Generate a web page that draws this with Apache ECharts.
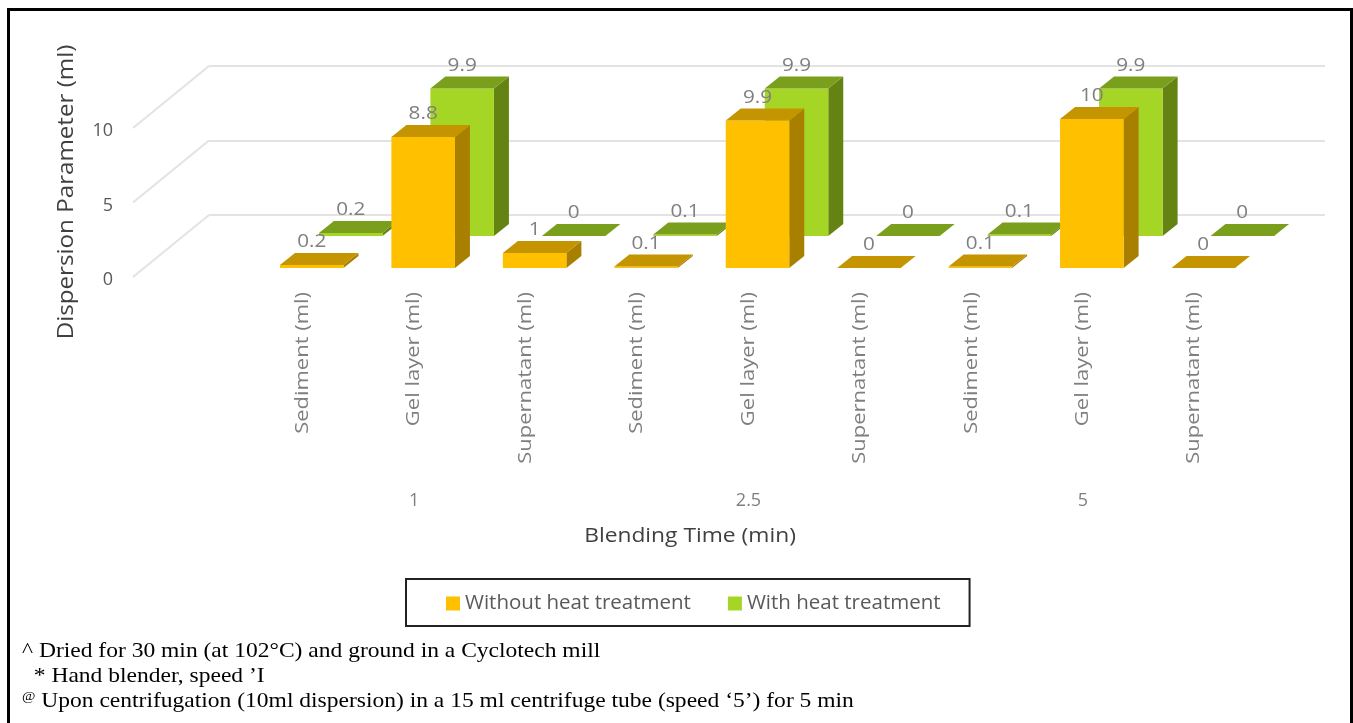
<!DOCTYPE html>
<html>
<head>
<meta charset="utf-8">
<style>
  html, body { margin: 0; padding: 0; background: #fff; }
  #chart { width: 1353px; height: 723px; }
</style>
</head>
<body>
<div id="chart"></div>
<script src="https://cdn.jsdelivr.net/npm/echarts@6/dist/echarts.min.js"></script>
<script>
// 数据
const categories = ['Sediment (ml)', 'Gel layer (ml)', 'Supernatant (ml)', 'Sediment (ml)', 'Gel layer (ml)', 'Supernatant (ml)', 'Sediment (ml)', 'Gel layer (ml)', 'Supernatant (ml)']
const blendingTimes = ['1', '2.5', '5']
const withoutHeat = [0.2, 8.8, 1, 0.1, 9.9, 0, 0.1, 10, 0]
const withHeat = [0.2, 9.9, 0, 0.1, 9.9, 0, 0.1, 9.9, 0]
const valueTicks = [0, 5, 10]
const footnotes = [
    '^ Dried for 30 min (at 102°C) and ground in a Cyclotech mill',
    '  * Hand blender, speed ’I',
    '{s|@} Upon centrifugation (10ml dispersion) in a 15 ml centrifuge tube (speed ‘5’) for 5 min'
]

// 颜色
const gray = '#7f7f7f'
const orange = { front: '#ffc000', side: '#a97f00', top: '#c49500' }
const green = { front: '#a6d625', side: '#648312', top: '#7a9f1c' }

const font = '"Open Sans", sans-serif'
const depthX = 15
const depthY = 12

// 三维柱子：正面、侧面、顶面加数值
const renderBar = (colors) => (params, api) => {
    const v = api.value(1)
    const top = api.coord([api.value(0), v])
    const base = api.coord([api.value(0), 0])
    const w = api.size([1, 0])[0] * 0.57
    const l = top[0] - w / 2
    const r = top[0] + w / 2
    const children = []
    if (base[1] - top[1] > 0) {
        children.push({
            type: 'polygon',
            shape: { points: [[r, top[1]], [r + depthX, top[1] - depthY], [r + depthX, base[1] - depthY], [r, base[1]]] },
            style: { fill: colors.side }
        })
        children.push({
            type: 'rect',
            shape: { x: l, y: top[1], width: w, height: base[1] - top[1] },
            style: { fill: colors.front }
        })
    }
    children.push({
        type: 'polygon',
        shape: { points: [[l, top[1]], [l + depthX, top[1] - depthY], [r + depthX, top[1] - depthY], [r, top[1]]] },
        style: { fill: colors.top }
    })
    children.push({
        type: 'text',
        x: top[0],
        y: top[1] - 23,
        scaleX: 1.15,
        style: {
            text: String(v),
            align: 'center',
            verticalAlign: 'middle',
            fill: gray,
            font: '18px ' + font
        }
    })
    return { type: 'group', children }
}

// 左侧斜线（地板到背板）
const renderDiagonal = (params, api) => {
    const p = api.coord([0, api.value(1)])
    return {
        type: 'line',
        shape: { x1: p[0], y1: p[1], x2: p[0] - 76, y2: p[1] + 62 },
        style: { stroke: '#e3e3e3', lineWidth: 2 }
    }
}

// 竖排分类文字，原图字距较宽所以横向拉伸
const renderCategoryLabel = (params, api) => {
    const p = api.coord([api.value(0), 0])
    return {
        type: 'text',
        x: p[0],
        y: p[1] + 24,
        rotation: Math.PI / 2,
        scaleX: 1.22,
        style: {
            text: categories[params.dataIndex],
            align: 'right',
            verticalAlign: 'middle',
            fill: gray,
            font: '18px ' + font
        }
    }
}

const hiddenValue = (gridIndex) => ({ type: 'value', gridIndex, min: 0, max: 10, show: false })
const hiddenCategory = (gridIndex) => ({ type: 'category', gridIndex, data: categories, show: false })

const chart = echarts.init(document.getElementById('chart'))
const option = {
    backgroundColor: '#ffffff',
    animation: false,
    grid: [
        { left: 209, top: 66, width: 1116, height: 149 },   // 背板
        { left: 256, top: 119, width: 1003, height: 149 },  // 前排
        { left: 295, top: 87, width: 1003, height: 149 },   // 后排
        { left: 247, top: 119, width: 1003, height: 149 },  // x 轴文字
        { left: 125, top: 131, width: 10, height: 149 }     // y 轴文字
    ],
    xAxis: [
        { type: 'value', gridIndex: 0, min: 0, max: 1, show: false },
        hiddenCategory(1),
        hiddenCategory(2),
        hiddenCategory(3),
        {
            type: 'category',
            gridIndex: 3,
            position: 'bottom',
            offset: 224,
            data: blendingTimes,
            axisLine: { show: false },
            axisTick: { show: false },
            axisLabel: { interval: 0, margin: 0, color: gray, fontSize: 18, fontFamily: font }
        },
        { type: 'value', gridIndex: 4, min: 0, max: 1, show: false }
    ],
    yAxis: [
        {
            type: 'value',
            gridIndex: 0,
            min: 0,
            max: 10,
            interval: 5,
            axisLine: { show: false },
            axisTick: { show: false },
            axisLabel: { show: false },
            splitLine: { lineStyle: { color: '#e3e3e3', width: 2 } }
        },
        hiddenValue(1),
        hiddenValue(2),
        hiddenValue(3),
        {
            type: 'value',
            gridIndex: 4,
            min: 0,
            max: 10,
            interval: 5,
            axisLine: { show: false },
            axisTick: { show: false },
            splitLine: { show: false },
            axisLabel: { margin: 12, color: '#595959', fontSize: 18, fontFamily: font }
        }
    ],
    legend: {
        left: 406,
        top: 579,
        padding: [14, 29, 12, 40],
        itemWidth: 14,
        itemHeight: 14,
        itemGap: 37,
        borderColor: '#222222',
        borderWidth: 2,
        data: [{ name: 'Without heat treatment', icon: 'rect' }, { name: 'With heat treatment', icon: 'rect' }],
        textStyle: { color: '#595959', fontSize: 20.5, fontFamily: font }
    },
    graphic: [
        // 外框
        {
            type: 'polyline',
            shape: { points: [[8.5, 723], [8.5, 9.5], [1351.5, 9.5], [1351.5, 723]] },
            style: { stroke: '#000000', lineWidth: 3, fill: null }
        },
        {
            type: 'text',
            x: 67,
            y: 192,
            rotation: Math.PI / 2,
            scaleX: 1.15,
            style: { text: 'Dispersion Parameter (ml)', align: 'center', verticalAlign: 'middle', fill: '#404040', font: '21px ' + font }
        },
        {
            type: 'text',
            x: 690,
            y: 536,
            scaleX: 1.14,
            style: { text: 'Blending Time (min)', align: 'center', verticalAlign: 'middle', fill: '#404040', font: '20px ' + font }
        },
        ...footnotes.map((text, i) => ({
            type: 'text',
            x: 22,
            y: [651, 676, 701][i],
            scaleX: 1.12,
            style: {
                text,
                verticalAlign: 'middle',
                fill: '#000000',
                font: '21px "Liberation Serif", serif',
                rich: { s: { fontSize: 13, fontFamily: 'Liberation Serif', fill: '#000000', verticalAlign: 'top' } }
            }
        }))
    ],
    series: [
        {
            name: 'wall',
            type: 'custom',
            xAxisIndex: 0,
            yAxisIndex: 0,
            silent: true,
            renderItem: renderDiagonal,
            data: valueTicks.map((v) => [0, v])
        },
        {
            name: 'labels',
            type: 'custom',
            xAxisIndex: 3,
            yAxisIndex: 3,
            silent: true,
            renderItem: renderCategoryLabel,
            data: categories.map((c, i) => [i, 0])
        },
        {
            name: 'With heat treatment',
            type: 'custom',
            xAxisIndex: 2,
            yAxisIndex: 2,
            itemStyle: { color: green.front },
            renderItem: renderBar(green),
            data: withHeat.map((v, i) => [i, v])
        },
        {
            name: 'Without heat treatment',
            type: 'custom',
            xAxisIndex: 1,
            yAxisIndex: 1,
            itemStyle: { color: orange.front },
            renderItem: renderBar(orange),
            data: withoutHeat.map((v, i) => [i, v])
        }
    ]
}
chart.setOption(option)
</script>
</body>
</html>
